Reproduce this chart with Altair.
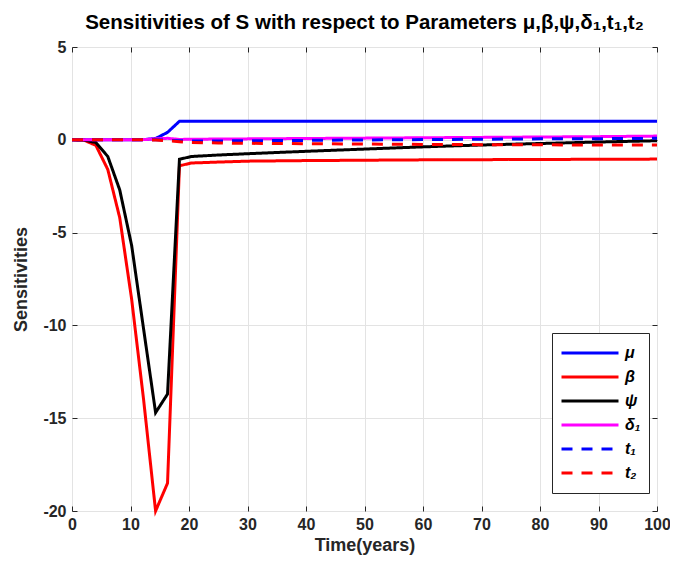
import altair as alt
import pandas as pd

time = [0, 2.04, 4.08, 6.12, 8.16, 10.2, 12.24, 14.29, 16.33, 18.37, 20.41,
        25, 30, 40, 50, 60, 70, 80, 90, 100]
mu = [0, 0, 0, 0, 0, 0, 0.01, 0.07, 0.4, 1.0, 1.0,
      1.0, 1.0, 1.0, 1.0, 1.0, 1.0, 1.0, 1.0, 1.0]
beta = [0, -0.02, -0.3, -1.6, -4.2, -8.6, -14.0, -20.0, -18.5, -1.4, -1.25,
        -1.2, -1.15, -1.12, -1.1, -1.08, -1.07, -1.06, -1.05, -1.04]
psi = [0, -0.01, -0.15, -0.9, -2.7, -5.7, -10.2, -14.7, -13.7, -1.05, -0.9,
       -0.82, -0.75, -0.62, -0.5, -0.38, -0.28, -0.2, -0.12, -0.05]
delta1 = [0, 0, 0, 0, 0, 0, 0.01, 0.05, 0.08, 0.02, 0.03,
          0.04, 0.05, 0.07, 0.09, 0.11, 0.13, 0.15, 0.17, 0.2]
t1 = [0, 0, 0, 0, 0, 0, 0, 0, -0.02, -0.05, -0.06,
      -0.06, -0.05, -0.03, -0.01, 0.01, 0.03, 0.05, 0.06, 0.08]
t2 = [0, 0, 0, 0, 0, 0, 0, -0.01, -0.05, -0.1, -0.15,
      -0.17, -0.19, -0.21, -0.23, -0.25, -0.26, -0.27, -0.28, -0.28]

names = ["μ", "β", "ψ", "δ₁", "t₁", "t₂"]
series = [mu, beta, psi, delta1, t1, t2]
colors = ["#0000FF", "#FF0000", "#000000", "#FF00FF", "#0000FF", "#FF0000"]
dashes = [[1, 0], [1, 0], [1, 0], [1, 0], [11, 9], [11, 9]]

rows = []
for i, (n, vals) in enumerate(zip(names, series)):
    for t, v in zip(time, vals):
        rows.append({"t": t, "v": v, "s": n, "o": i})
df = pd.DataFrame(rows)

FONT = "Liberation Sans"
AX = "#262626"

legend = alt.Legend(
    title=None, orient="none", legendX=480, legendY=286,
    symbolType="stroke", symbolSize=3249, symbolStrokeWidth=3,
    labelFont=FONT, labelFontSize=16, labelFontWeight="bold", labelFontStyle="italic",
    labelColor="#000000", labelOffset=5,
    strokeColor=AX, fillColor="white", padding=8,
    clipHeight=24, rowPadding=0,
)

xscale = alt.Scale(domain=[0, 100], nice=False)
yscale = alt.Scale(domain=[-20, 5], nice=False)

base = alt.Chart(df).mark_line(strokeWidth=3, strokeCap="butt").encode(
    x=alt.X("t:Q", scale=xscale, axis=alt.Axis(
        title="Time(years)", values=list(range(0, 101, 10)), orient="bottom",
        labelExpr="toString(datum.value)", labelFlush=False,
        domain=False, offset=-5, tickSize=5, tickColor=AX,
        labelFont=FONT, labelFontSize=16, labelFontWeight="bold", labelColor=AX,
        labelPadding=5, titleFont=FONT, titleFontSize=18, titleFontWeight="bold",
        titleColor=AX, titlePadding=4,
        grid=True, gridColor="#e3e3e3", gridWidth=1)),
    y=alt.Y("v:Q", scale=yscale, axis=alt.Axis(
        title="Sensitivities", values=list(range(-20, 6, 5)), orient="left",
        labelExpr="toString(datum.value)", labelFlush=False,
        domain=False, offset=-5, tickSize=5, tickColor=AX,
        labelFont=FONT, labelFontSize=16, labelFontWeight="bold", labelColor=AX,
        labelPadding=6, titleFont=FONT, titleFontSize=18, titleFontWeight="bold",
        titleColor=AX, titlePadding=12,
        grid=True, gridColor="#e3e3e3", gridWidth=1)),
    color=alt.Color("s:N", scale=alt.Scale(domain=names, range=colors), legend=legend),
    strokeDash=alt.StrokeDash("s:N", scale=alt.Scale(domain=names, range=dashes), legend=legend),
    order=alt.Order("o:Q"),
)

overlay = alt.Chart(df).mark_line(opacity=0).encode(
    x=alt.X("t:Q", scale=xscale, axis=alt.Axis(
        orient="top", values=list(range(0, 101, 10)), labels=False, title=None,
        domain=False, offset=-5, tickSize=5, tickColor=AX, grid=False)),
    y=alt.Y("v:Q", scale=yscale, axis=alt.Axis(
        orient="right", values=list(range(-20, 6, 5)), labels=False, title=None,
        domain=False, offset=-5, tickSize=5, tickColor=AX, grid=False)),
    detail="s:N",
)

chart = alt.layer(base, overlay).resolve_axis(x="independent", y="independent").properties(
    width=585, height=464,
    autosize=alt.AutoSizeParams(type="none"),
    padding={"left": 64, "top": 39, "right": 13, "bottom": 50},
    title=alt.TitleParams(
        "Sensitivities of S with respect to Parameters μ,β,ψ,δ₁,t₁,t₂",
        font=FONT, fontSize=20.5, fontWeight="bold", color="#000000",
        anchor="middle", offset=6),
).configure_view(stroke=AX, strokeWidth=1.5).configure(background="white")

chart.save("out.html", embed_options={"renderer": "svg", "actions": False})
